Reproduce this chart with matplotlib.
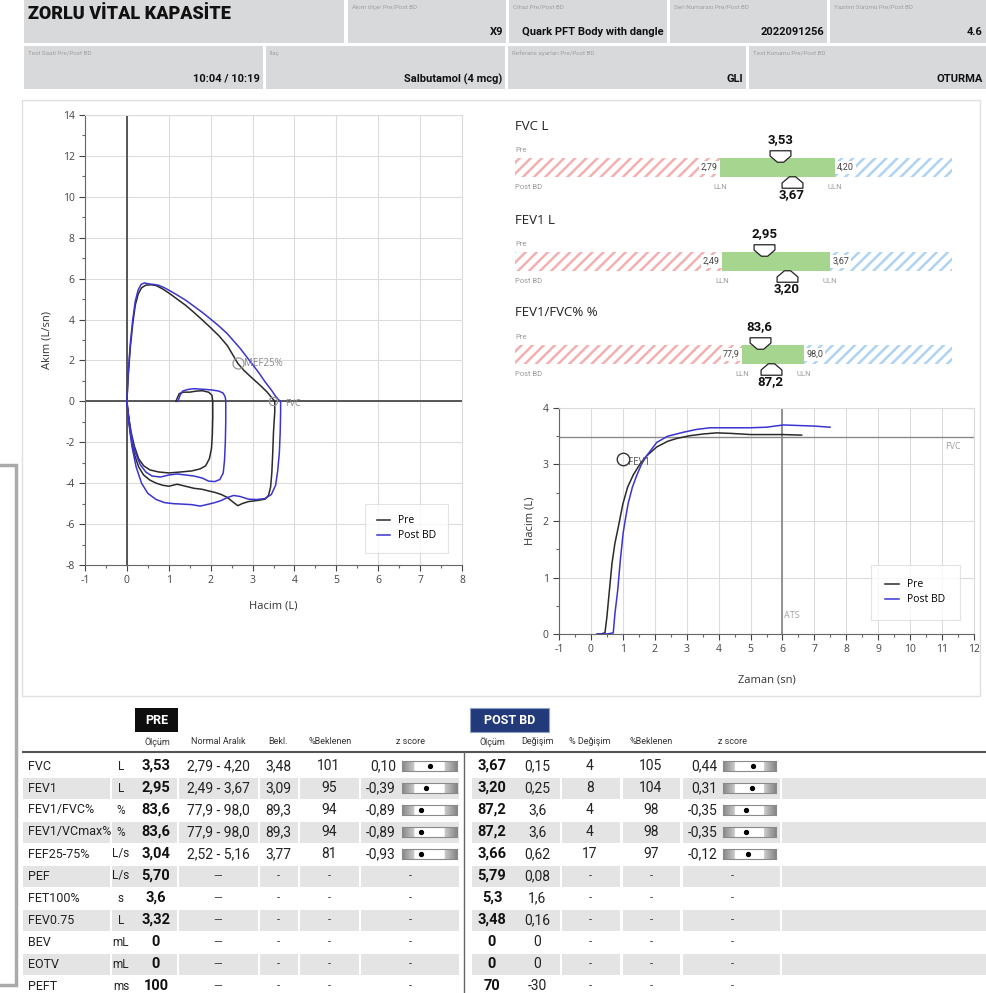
import matplotlib
matplotlib.use("Agg")
import matplotlib.pyplot as plt
import numpy as np
from matplotlib.patches import Rectangle
from matplotlib.path import Path

# ---------------------------------------------------------------- data
# flow-volume loops (volume L, flow L/s)
pre_fv_vol = [1.17, 1.2, 1.25, 1.35, 1.5, 1.65, 1.8, 1.95, 2.03, 2.05, 2.05, 2.04, 2.02, 1.97, 1.88, 1.75, 1.55, 1.3, 1.0, 0.75, 0.55, 0.4, 0.28, 0.18, 0.1, 0.04, 0.0,
              0.03, 0.08, 0.14, 0.2, 0.27, 0.35, 0.45, 0.58, 0.7, 0.85, 1.0, 1.2, 1.4, 1.6, 1.8, 2.0, 2.2, 2.4, 2.55, 2.65, 2.8, 3.0, 3.2, 3.35, 3.45, 3.53,
              3.53, 3.5, 3.48, 3.46, 3.43, 3.38, 3.3, 3.1, 2.9, 2.75, 2.65, 2.55, 2.4, 2.25, 2.1, 1.95, 1.8, 1.6, 1.4, 1.2, 1.0, 0.85, 0.7, 0.55, 0.4, 0.28, 0.18, 0.1, 0.05, 0.02]
pre_fv_flow = [0.0, 0.15, 0.38, 0.45, 0.45, 0.5, 0.52, 0.45, 0.3, 0.0, -0.8, -1.6, -2.3, -2.8, -3.15, -3.3, -3.4, -3.45, -3.5, -3.45, -3.35, -3.15, -2.8, -2.2, -1.5, -0.7, 0.0,
               1.2, 2.6, 3.8, 4.7, 5.25, 5.55, 5.68, 5.7, 5.66, 5.5, 5.3, 5.0, 4.7, 4.35, 3.98, 3.6, 3.2, 2.72, 2.2, 1.85, 1.5, 1.12, 0.75, 0.45, 0.2, 0.0,
               -0.5, -1.5, -2.6, -3.5, -4.2, -4.6, -4.78, -4.85, -4.9, -5.0, -5.1, -4.95, -4.7, -4.55, -4.45, -4.38, -4.3, -4.25, -4.15, -4.05, -4.15, -4.1, -4.0, -3.85, -3.6, -3.2, -2.6, -1.8, -1.0, -0.4]
post_fv_vol = [1.22, 1.27, 1.33, 1.45, 1.6, 1.75, 1.9, 2.05, 2.2, 2.3, 2.35, 2.36, 2.36, 2.35, 2.33, 2.3, 2.22, 2.1, 1.95, 1.8, 1.6, 1.4, 1.2, 1.0, 0.8, 0.6, 0.45, 0.32, 0.2, 0.1, 0.04, 0.0,
               0.03, 0.08, 0.14, 0.2, 0.27, 0.34, 0.42, 0.5, 0.62, 0.75, 0.9, 1.05, 1.2, 1.4, 1.6, 1.8, 2.0, 2.2, 2.4, 2.55, 2.7, 2.85, 3.0, 3.15, 3.3, 3.45, 3.55, 3.62, 3.67,
               3.67, 3.66, 3.64, 3.6, 3.55, 3.45, 3.3, 3.1, 2.9, 2.7, 2.55, 2.4, 2.25, 2.1, 1.9, 1.75, 1.55, 1.3, 1.1, 0.9, 0.7, 0.5, 0.35, 0.22, 0.12, 0.05, 0.0]
post_fv_flow = [0.0, 0.3, 0.5, 0.58, 0.62, 0.6, 0.58, 0.55, 0.5, 0.4, 0.2, 0.0, -1.0, -2.0, -2.9, -3.5, -3.82, -3.92, -3.9, -3.75, -3.65, -3.6, -3.55, -3.6, -3.7, -3.65, -3.45, -3.1, -2.5, -1.6, -0.8, 0.0,
                1.3, 2.8, 4.0, 4.9, 5.45, 5.72, 5.79, 5.75, 5.72, 5.68, 5.55, 5.38, 5.2, 4.95, 4.65, 4.35, 4.02, 3.68, 3.3, 2.95, 2.6, 2.2, 1.8, 1.4, 0.95, 0.55, 0.25, 0.08, 0.0,
                -0.5, -1.5, -2.5, -3.4, -4.1, -4.55, -4.75, -4.8, -4.78, -4.65, -4.6, -4.7, -4.85, -4.95, -5.05, -5.12, -5.05, -5.02, -5.0, -4.95, -4.8, -4.5, -4.0, -3.2, -2.2, -1.1, 0.0]
mef25_point = (2.65, 1.86)
fvc_pred_point = (3.48, 0.0)

# volume-time curves (s, L)
pre_vt_time = [0.2, 0.3, 0.44, 0.5, 0.58, 0.66, 0.75, 0.86, 1.0, 1.15, 1.33, 1.55, 1.74, 2.06, 2.4, 2.68, 3.1, 3.52, 3.94, 4.4, 5.0, 5.5, 6.0, 6.6]
pre_vt_vol = [0.0, 0.0, 0.02, 0.3, 0.78, 1.25, 1.6, 1.9, 2.3, 2.6, 2.82, 3.02, 3.15, 3.31, 3.41, 3.46, 3.51, 3.54, 3.56, 3.55, 3.53, 3.53, 3.53, 3.52]
post_vt_time = [0.2, 0.5, 0.7, 0.75, 0.84, 0.92, 1.01, 1.1, 1.17, 1.3, 1.43, 1.58, 1.74, 2.06, 2.4, 2.89, 3.3, 3.73, 4.5, 5.0, 5.5, 6.03, 6.5, 7.0, 7.49]
post_vt_vol = [0.0, 0.0, 0.02, 0.35, 0.78, 1.3, 1.79, 2.1, 2.32, 2.6, 2.8, 3.0, 3.15, 3.39, 3.5, 3.57, 3.62, 3.65, 3.65, 3.65, 3.66, 3.7, 3.69, 3.68, 3.66]
fev1_pred_point = (1.0, 3.09)
fvc_pred_line = 3.48
ats_time = 6.0

# results table
names = ["FVC", "FEV1", "FEV1/FVC%", "FEV1/VCmax%", "FEF25-75%", "PEF", "FET100%", "FEV0.75", "BEV", "EOTV", "PEFT"]
units = ["L", "L", "%", "%", "L/s", "L/s", "s", "L", "mL", "mL", "ms"]
decimals = [2, 2, 1, 1, 2, 2, 1, 2, 0, 0, 0]
pre_meas = [3.53, 2.95, 83.6, 83.6, 3.04, 5.70, 3.6, 3.32, 0, 0, 100]
lln = [2.79, 2.49, 77.9, 77.9, 2.52, None, None, None, None, None, None]
uln = [4.20, 3.67, 98.0, 98.0, 5.16, None, None, None, None, None, None]
pred = [3.48, 3.09, 89.3, 89.3, 3.77, None, None, None, None, None, None]
pre_pct = [101, 95, 94, 94, 81, None, None, None, None, None, None]
pre_z = [0.10, -0.39, -0.89, -0.89, -0.93, None, None, None, None, None, None]
post_meas = [3.67, 3.20, 87.2, 87.2, 3.66, 5.79, 5.3, 3.48, 0, 0, 70]
change = [0.15, 0.25, 3.6, 3.6, 0.62, 0.08, 1.6, 0.16, 0, 0, -30]
pct_change = [4, 8, 4, 4, 17, None, None, None, None, None, None]
post_pct = [105, 104, 98, 98, 97, None, None, None, None, None, None]
post_z = [0.44, 0.31, -0.35, -0.35, -0.12, None, None, None, None, None, None]

# header fields: (label, value)
header_row1 = [("Akım ölçer Pre/Post BD", "X9"), ("Cihaz Pre/Post BD", "Quark PFT Body with dangle"),
               ("Seri Numarası Pre/Post BD", "2022091256"), ("Yazılım Sürümü Pre/Post BD", "4.6")]
header_row2 = [("Test Saati Pre/Post BD", "10:04 / 10:19"), ("İlaç", "Salbutamol (4 mcg)"),
               ("Referans ayarları Pre/Post BD", "GLI"), ("Test Konumu Pre/Post BD", "OTURMA")]
title = "ZORLU VİTAL KAPASİTE"

# ---------------------------------------------------------------- style
W, H = 986, 993
NARROW = ['Roboto', 'DejaVu Sans']
PLOTF = ['Open Sans', 'DejaVu Sans']
plt.rcParams['font.family'] = PLOTF
plt.rcParams['axes.unicode_minus'] = False
plt.rcParams['hatch.linewidth'] = 1.8
PRE_C = '#2a2a2a'
POST_C = '#3b34cf'
GRID_C = '#dcdcdc'
SPINE_C = '#666666'

fig = plt.figure(figsize=(W / 100, H / 100), dpi=100)
fig.patch.set_facecolor('white')


def rect(x0, y0, x1, y1):
    return [x0 / W, 1 - y1 / H, (x1 - x0) / W, (y1 - y0) / H]


def fmt(v, d):
    return f"{v:.{d}f}".replace('.', ',')


bg = fig.add_axes([0, 0, 1, 1], zorder=0)
bg.set_xlim(0, W)
bg.set_ylim(H, 0)
bg.axis('off')

# ---------------------------------------------------------------- header
BOX_C = '#d8d9db'
r1 = [(24, 344), (348, 506), (509, 667), (670, 827), (830, 986)]
r2 = [(24, 263), (266, 505), (508, 746), (749, 986)]
for x0, x1 in r1:
    bg.add_patch(Rectangle((x0, 0), x1 - x0, 43, color=BOX_C, lw=0))
for x0, x1 in r2:
    bg.add_patch(Rectangle((x0, 46), x1 - x0, 43, color=BOX_C, lw=0))
bg.text(28, 14, title, fontsize=13, fontweight='heavy', color='#111', va='center', family=NARROW)
for (x0, x1), (lab, val) in zip(r1[1:], header_row1):
    bg.text(x0 + 4, 7, lab, fontsize=4.5, color='#a0a0a0', va='center', family=NARROW)
    bg.text(x1 - 3, 32, val, fontsize=8, fontweight='bold', color='#111', va='center', ha='right', family=NARROW)
for (x0, x1), (lab, val) in zip(r2, header_row2):
    bg.text(x0 + 4, 53, lab, fontsize=4.5, color='#a0a0a0', va='center', family=NARROW)
    bg.text(x1 - 3, 79, val, fontsize=8, fontweight='bold', color='#111', va='center', ha='right', family=NARROW)

# panel frame and side window
bg.add_patch(Rectangle((22, 100), 958, 596, fill=False, edgecolor='#e0e0e0', lw=1))
bg.add_patch(Rectangle((-3, 465), 19, 520, facecolor='white', edgecolor='#aaaaaa', lw=2.5))

# ---------------------------------------------------------------- flow-volume
ax1 = fig.add_axes(rect(85, 115, 462, 565), zorder=2)
ax1.set_xlim(-1, 8)
ax1.set_ylim(-8, 14)
ax1.set_xticks(range(-1, 9))
ax1.set_yticks(range(-8, 15, 2))
ax1.set_xticks(np.arange(-1, 8.01, 0.5), minor=True)
ax1.set_yticks(range(-8, 15), minor=True)
ax1.grid(True, which='major', color=GRID_C, lw=0.8)
ax1.set_axisbelow(True)
for s in ('top', 'right'):
    ax1.spines[s].set_color(GRID_C)
for s in ('left', 'bottom'):
    ax1.spines[s].set_color(SPINE_C)
ax1.tick_params(which='major', labelsize=7.5, colors='#444', length=4, width=0.8)
ax1.tick_params(which='minor', length=2, width=0.8, colors='#666')
ax1.axhline(0, color='#4a4a4a', lw=1.3, zorder=1)
ax1.axvline(0, color='#4a4a4a', lw=1.3, zorder=1)
ax1.plot(pre_fv_vol, pre_fv_flow, color=PRE_C, lw=1.1, label='Pre', zorder=3)
ax1.plot(post_fv_vol, post_fv_flow, color=POST_C, lw=1.1, label='Post BD', zorder=3)
ax1.plot(*mef25_point, 'o', mfc='none', mec='#999', ms=8, mew=0.9, zorder=4)
ax1.text(mef25_point[0] + 0.15, mef25_point[1], 'MEF25%', fontsize=7, color='#8a8a8a', va='center')
ax1.plot(*fvc_pred_point, 'o', mfc='none', mec='#999', ms=6, mew=0.9, zorder=4)
ax1.text(fvc_pred_point[0] + 0.3, fvc_pred_point[1] - 0.1, 'FVC', fontsize=6.5, color='#8a8a8a', va='center')
ax1.set_xlabel('Hacim (L)', fontsize=8, color='#333', labelpad=10)
ax1.set_ylabel('Akım (L/sn)', fontsize=8, color='#333', labelpad=7)
leg1 = ax1.legend(loc='lower right', bbox_to_anchor=(0.963, 0.027), borderaxespad=0, fontsize=7.5,
                  frameon=True, fancybox=False, edgecolor=GRID_C, handlelength=1.3, borderpad=1.1,
                  labelspacing=0.4, handletextpad=0.8)
leg1.get_frame().set_linewidth(0.8)

# ---------------------------------------------------------------- volume-time
ax2 = fig.add_axes(rect(559, 408, 974, 634), zorder=2)
ax2.set_xlim(-1, 12)
ax2.set_ylim(0, 4)
ax2.set_xticks(range(-1, 13))
ax2.set_yticks(range(0, 5))
ax2.set_xticks(np.arange(-1, 12.01, 0.5), minor=True)
ax2.set_yticks(np.arange(0, 4.01, 0.5), minor=True)
ax2.grid(True, which='major', color=GRID_C, lw=0.8)
ax2.set_axisbelow(True)
for s in ('top', 'right'):
    ax2.spines[s].set_color(GRID_C)
for s in ('left', 'bottom'):
    ax2.spines[s].set_color(SPINE_C)
ax2.tick_params(which='major', labelsize=7.5, colors='#444', length=4, width=0.8)
ax2.tick_params(which='minor', length=2, width=0.8, colors='#666')
ax2.axvline(ats_time, color='#8a8a8a', lw=1.3, zorder=1)
ax2.axhline(fvc_pred_line, color='#8a8a8a', lw=1.0, zorder=1)
ax2.text(11.35, fvc_pred_line - 0.17, 'FVC', fontsize=6.5, color='#a0a0a0', ha='center', va='center')
ax2.text(ats_time + 0.05, 0.32, 'ATS', fontsize=6.5, color='#a0a0a0', ha='left', va='center')
ax2.plot(pre_vt_time, pre_vt_vol, color=PRE_C, lw=1.1, label='Pre', zorder=3)
ax2.plot(post_vt_time, post_vt_vol, color=POST_C, lw=1.1, label='Post BD', zorder=3)
ax2.plot(*fev1_pred_point, 'o', mfc='none', mec='#333', ms=9, mew=1.0, zorder=4)
ax2.text(fev1_pred_point[0] + 0.15, fev1_pred_point[1] - 0.05, 'FEV1', fontsize=7, color='#555', va='center')
ax2.set_xlabel('Zaman (sn)', fontsize=8, color='#333', labelpad=14)
ax2.set_ylabel('Hacim (L)', fontsize=8, color='#333', labelpad=5)
leg2 = ax2.legend(loc='lower right', bbox_to_anchor=(0.966, 0.062), borderaxespad=0, fontsize=7.5,
                  frameon=True, fancybox=False, edgecolor=GRID_C, handlelength=1.3, borderpad=1.4,
                  labelspacing=0.4, handletextpad=0.8)
leg2.get_frame().set_linewidth(0.8)

# ---------------------------------------------------------------- normal-range indicators
down_path = Path([(-1, 0.55), (1, 0.55), (1, 0.05), (0.3, -0.55), (-0.3, -0.55), (-1, 0.05), (-1, 0.55)],
                 [Path.MOVETO] + [Path.LINETO] * 5 + [Path.CLOSEPOLY])
up_path = Path([(x, -y) for x, y in down_path.vertices], down_path.codes)

ind_rows = [0, 1, 2]
ind_title_y = [127, 220, 313]
ind_bar_top = [158, 252, 345]
ind_limits = [(0.28, 5.63), (0.23, 5.0), (4.2, 146.0)]
BAR_H = 19
for r, ty, top, (lo, hi) in zip(ind_rows, ind_title_y, ind_bar_top, ind_limits):
    d = decimals[r]
    bg.text(515, ty, f"{names[r]} {units[r]}", fontsize=9.5, color='#222', va='center', family=PLOTF)
    ax = fig.add_axes(rect(515, top - BAR_H, 952, top + 2 * BAR_H), zorder=3)
    ax.set_xlim(lo, hi)
    ax.set_ylim(-1.5, 1.5)
    ax.axis('off')
    ax.patch.set_alpha(0)
    ax.add_patch(Rectangle((lo, -0.5), lln[r] - lo, 1, fill=False, hatch='///', edgecolor='#f4b0b0', lw=0))
    ax.add_patch(Rectangle((uln[r], -0.5), hi - uln[r], 1, fill=False, hatch='///', edgecolor='#aed3f3', lw=0))
    ax.add_patch(Rectangle((lln[r], -0.5), uln[r] - lln[r], 1, color='#a6d590', lw=0))
    ax.annotate(fmt(lln[r], d), (lln[r], 0), xytext=(-1.5, 0), textcoords='offset points', ha='right', va='center',
                fontsize=6.5, color='#444', family=NARROW,
                bbox=dict(boxstyle='square,pad=0.2', fc='white', ec='none'))
    ax.annotate(fmt(uln[r], d), (uln[r], 0), xytext=(1.5, 0), textcoords='offset points', ha='left', va='center',
                fontsize=6.5, color='#444', family=NARROW,
                bbox=dict(boxstyle='square,pad=0.2', fc='white', ec='none'))
    ax.text(lo, 0.93, 'Pre', fontsize=5.5, color='#9a9a9a', va='center', family=NARROW)
    ax.text(lo, -1.05, 'Post BD', fontsize=5.5, color='#9a9a9a', va='center', family=NARROW)
    ax.text(lln[r], -1.05, 'LLN', fontsize=5.5, color='#9a9a9a', va='center', ha='center', family=NARROW)
    ax.text(uln[r], -1.05, 'ULN', fontsize=5.5, color='#9a9a9a', va='center', ha='center', family=NARROW)
    ax.plot(pre_meas[r], 0.63, marker=down_path, ms=15, mfc='white', mec='#222', mew=0.9, clip_on=False)
    ax.plot(post_meas[r], -0.76, marker=up_path, ms=15, mfc='white', mec='#222', mew=0.9, clip_on=False)
    ax.text(pre_meas[r], 1.45, fmt(pre_meas[r], d), fontsize=9.5, fontweight='bold', color='#111',
            ha='center', va='center', family=NARROW)
    ax.text(post_meas[r], -1.42, fmt(post_meas[r], d), fontsize=9.5, fontweight='bold', color='#111',
            ha='center', va='center', family=NARROW)

# ---------------------------------------------------------------- results table
bg.add_patch(Rectangle((135, 708), 43, 24, color='#0d0d0d', lw=0))
bg.text(156.5, 720, 'PRE', fontsize=9, fontweight='bold', color='white', ha='center', va='center', family=NARROW)
bg.add_patch(Rectangle((470, 708), 79, 24, facecolor='#22397a', edgecolor='#8fa0c8', lw=0.8))
bg.text(509.5, 720, 'POST BD', fontsize=9, fontweight='bold', color='white', ha='center', va='center', family=NARROW)

hdr_y = 742
for x, lab in [(157, 'Ölçüm'), (218, 'Normal Aralık'), (278, 'Bekl.'), (330, '%Beklenen'), (410, 'z score'),
               (492, 'Ölçüm'), (537, 'Değişim'), (590, '% Değişim'), (651, '%Beklenen'), (732, 'z score')]:
    bg.text(x, hdr_y, lab, fontsize=6.5, color='#333', ha='center', va='center', family=NARROW)
bg.plot([23, 986], [752, 752], color='#555', lw=1.5)
bg.plot([464, 464], [752, 993], color='#666', lw=1.0)

pre_cells = [(23, 110), (112, 177), (179, 258), (260, 298), (300, 359), (361, 459)]
post_cells = [(472, 560), (562, 620), (623, 680), (683, 780), (782, 986)]
ROW0, ROWH = 766, 22


def zbar(x0, x1, cy, z):
    zax = fig.add_axes(rect(x0, cy - 5, x1, cy + 5), zorder=3)
    zax.set_xlim(-3, 3)
    zax.set_ylim(0, 1)
    xs = np.linspace(-3, 3, 240)
    level = np.where(np.abs(xs) < 1.645, 1.0, 0.80 - 0.28 * (np.abs(xs) - 1.645) / 1.355)
    zax.imshow(np.tile(level, (2, 1)), cmap='gray', vmin=0, vmax=1, extent=(-3, 3, 0, 1), aspect='auto')
    zax.plot(z, 0.5, 'o', color='black', ms=2.8)
    zax.set_xticks([])
    zax.set_yticks([])
    for s in zax.spines.values():
        s.set_color('#8a8a8a')
        s.set_linewidth(0.8)


for i, name in enumerate(names):
    cy = ROW0 + i * ROWH
    if i % 2 == 1:
        for x0, x1 in pre_cells + post_cells:
            bg.add_patch(Rectangle((x0, cy - 10.5), x1 - x0, 21, color='#e4e4e4', lw=0))
    d = decimals[i]
    bg.text(28, cy, name, fontsize=9, color='#222', va='center', family=NARROW)
    bg.text(121, cy, units[i], fontsize=8.5, color='#222', va='center', ha='center', family=NARROW)
    bg.text(156, cy, fmt(pre_meas[i], d), fontsize=10.5, fontweight='bold', color='#111', va='center',
            ha='center', family=NARROW)
    if lln[i] is not None:
        bg.text(218, cy, f"{fmt(lln[i], d)} - {fmt(uln[i], d)}", fontsize=10, color='#222', va='center',
                ha='center', family=NARROW)
        bg.text(278, cy, fmt(pred[i], d), fontsize=10, color='#222', va='center', ha='center', family=NARROW)
        bg.text(329, cy, f"{pre_pct[i]}", fontsize=10, color='#222', va='center', ha='center', family=NARROW)
        bg.text(396, cy, fmt(pre_z[i], 2), fontsize=10, color='#222', va='center', ha='right', family=NARROW)
        zbar(402, 457, cy, pre_z[i])
        bg.text(590, cy, f"{pct_change[i]}", fontsize=10, color='#222', va='center', ha='center', family=NARROW)
        bg.text(651, cy, f"{post_pct[i]}", fontsize=10, color='#222', va='center', ha='center', family=NARROW)
        bg.text(717, cy, fmt(post_z[i], 2), fontsize=10, color='#222', va='center', ha='right', family=NARROW)
        zbar(723, 776, cy, post_z[i])
    else:
        bg.text(218, cy, '—', fontsize=8, color='#333', va='center', ha='center', family=NARROW)
        for x in (278, 329, 410, 590, 651, 732):
            bg.text(x, cy, '-', fontsize=8, color='#333', va='center', ha='center', family=NARROW)
    bg.text(492, cy, fmt(post_meas[i], d), fontsize=10.5, fontweight='bold', color='#111', va='center',
            ha='center', family=NARROW)
    cd = d if i not in (2, 3) else 1
    bg.text(537, cy, fmt(change[i], cd), fontsize=10, color='#222', va='center', ha='center', family=NARROW)

fig.savefig('out.png', dpi=100, facecolor='white')
